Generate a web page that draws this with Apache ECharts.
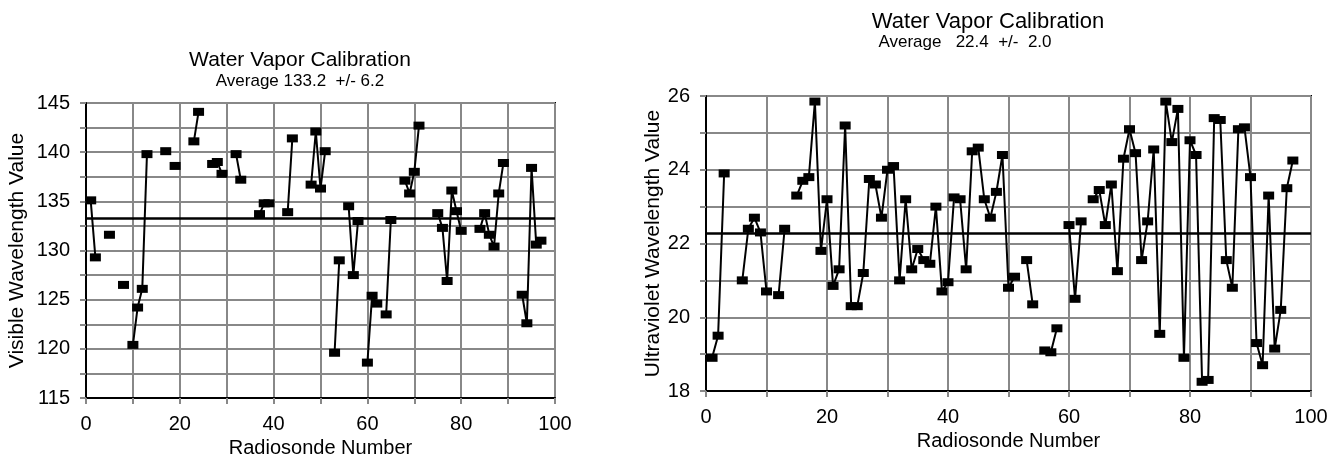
<!DOCTYPE html>
<html><head><meta charset="utf-8">
<script src="https://cdn.jsdelivr.net/npm/echarts@6/dist/echarts.min.js"></script>
<style>html,body{margin:0;padding:0;background:#fff}#c{width:1335px;height:468px}</style>
</head><body><div id="c"></div>
<script>
// ---- data ----
const radiosondeNumbers = [
  1,2,3,4,5,6,7,8,9,10,11,12,13,14,15,16,17,18,19,20,
  21,22,23,24,25,26,27,28,29,30,31,32,33,34,35,36,37,38,39,40,
  41,42,43,44,45,46,47,48,49,50,51,52,53,54,55,56,57,58,59,60,
  61,62,63,64,65,66,67,68,69,70,71,72,73,74,75,76,77,78,79,80,
  81,82,83,84,85,86,87,88,89,90,91,92,93,94,95,96,97
];
const visibleValues = [
  135.1,129.3,null,null,131.6,null,null,126.5,null,120.4,
  124.2,126.1,139.8,null,null,null,140.1,null,138.6,null,
  null,null,141.1,144.1,null,null,138.8,139.0,137.8,null,
  null,139.8,137.2,null,null,null,133.7,134.8,134.8,null,
  null,null,133.9,141.4,null,null,null,136.7,142.1,136.3,
  140.1,null,119.6,129.0,null,134.5,127.5,133.0,null,118.6,
  125.4,124.6,null,123.5,133.1,null,null,137.1,135.8,138.0,
  142.7,null,null,null,133.8,132.3,126.9,136.1,134.0,132.0,
  null,null,null,132.2,133.8,131.6,130.4,135.8,138.9,null,
  null,null,125.5,122.6,138.4,130.6,131.0
];
const ultravioletValues = [
  18.9,19.5,23.9,null,null,21.0,22.4,22.7,22.3,20.7,
  null,20.6,22.4,null,23.3,23.7,23.8,25.85,21.8,23.2,
  20.85,21.3,25.2,20.3,20.3,21.2,23.75,23.6,22.7,24.0,
  24.1,21.0,23.2,21.3,21.85,21.55,21.45,23.0,20.7,20.95,
  23.25,23.2,21.3,24.5,24.6,23.2,22.7,23.4,24.4,20.8,
  21.1,null,21.55,20.35,null,19.1,19.05,19.7,null,22.5,
  20.5,22.6,null,23.2,23.45,22.5,23.6,21.25,24.3,25.1,
  24.45,21.55,22.6,24.55,19.55,25.85,24.75,25.65,18.9,24.8,
  24.4,18.25,18.3,25.4,25.35,21.55,20.8,25.1,25.15,23.8,
  19.3,18.7,23.3,19.15,20.2,23.5,24.25
];
const visibleAverageLine = 133.3;
const ultravioletAverageLine = 22.27;
const chartTitle = 'Water Vapor Calibration';
const visibleSubtitle = 'Average 133.2  +/- 6.2';
const ultravioletSubtitle = 'Average   22.4  +/-  2.0';
const xAxisName = 'Radiosonde Number';
const visibleAxisName = 'Visible Wavelength Value';
const ultravioletAxisName = 'Ultraviolet Wavelength Value';

// ---- chart ----
const FONT = 'Liberation Sans';
const GRID = '#888888';
const toPairs = (xs, ys) => xs.map((x, i) => [x, ys[i] == null ? '-' : ys[i]]);

function xAxisCfg(gi) {
  return {
    gridIndex: gi, type: 'value', min: 0, max: 100, interval: 10,
    axisLine: { onZero: false, lineStyle: { color: '#000', width: 2 } },
    axisTick: { show: true, length: 6, lineStyle: { color: GRID, width: 2 } },
    axisLabel: { margin: 16, fontSize: 20, color: '#000', fontFamily: FONT,
      formatter: v => (v % 20 === 0 ? String(v) : '') },
    splitLine: { show: true, lineStyle: { color: GRID, width: 2 } },
    name: xAxisName, nameLocation: 'middle', nameGap: 40,
    nameTextStyle: { fontSize: 20, color: '#000', fontFamily: FONT }
  };
}
function yAxisCfg(gi, min, max, interval, labelStep, name, nameGap) {
  return {
    gridIndex: gi, type: 'value', min: min, max: max, interval: interval,
    axisLine: { onZero: false, lineStyle: { color: '#000', width: 2 } },
    axisTick: { show: true, length: 6, lineStyle: { color: GRID, width: 2 } },
    axisLabel: { margin: 16, fontSize: 20, color: '#000', fontFamily: FONT,
      formatter: v => (Math.abs(v / labelStep - Math.round(v / labelStep)) < 1e-6 ? String(v) : '') },
    splitLine: { show: true, lineStyle: { color: GRID, width: 2 } },
    name: name, nameLocation: 'middle', nameRotate: 90, nameGap: nameGap,
    nameTextStyle: { fontSize: 21, color: '#000', fontFamily: FONT }
  };
}
function seriesCfg(gi, values, avg) {
  return {
    type: 'line', xAxisIndex: gi, yAxisIndex: gi,
    data: toPairs(radiosondeNumbers, values),
    connectNulls: false, showSymbol: true, showAllSymbol: true,
    symbol: 'rect', symbolSize: [11, 8],
    itemStyle: { color: '#000' },
    lineStyle: { color: '#000', width: 2 },
    emphasis: { disabled: true },
    z: 5,
    markLine: {
      silent: true, symbol: 'none', label: { show: false },
      lineStyle: { color: '#000', width: 2.5, type: 'solid' },
      emphasis: { disabled: true },
      data: [{ yAxis: avg }]
    }
  };
}
function titleCfg(text, x, top, size) {
  return { text: text, left: x, top: top, textAlign: 'center', padding: 0,
    textStyle: { fontSize: size, fontWeight: 'normal', color: '#000', fontFamily: FONT } };
}

const chart = echarts.init(document.getElementById('c'));
chart.setOption({
  animation: false,
  backgroundColor: '#fff',
  title: [
    titleCfg(chartTitle, 300, 50, 21),
    titleCfg(visibleSubtitle, 300, 73, 17),
    titleCfg(chartTitle, 988, 11, 22),
    titleCfg(ultravioletSubtitle, 965, 34, 17)
  ],
  grid: [
    { left: 86, top: 103, width: 469, height: 295, show: true, borderColor: '#000', borderWidth: 2, containLabel: false },
    { left: 706, top: 96, width: 605, height: 295, show: true, borderColor: '#000', borderWidth: 2, containLabel: false }
  ],
  xAxis: [xAxisCfg(0), xAxisCfg(1)],
  yAxis: [
    yAxisCfg(0, 115, 145, 2.5, 5, visibleAxisName, 58),
    yAxisCfg(1, 18, 26, 1, 2, ultravioletAxisName, 42)
  ],
  series: [
    seriesCfg(0, visibleValues, visibleAverageLine),
    seriesCfg(1, ultravioletValues, ultravioletAverageLine)
  ]
});
</script></body></html>
